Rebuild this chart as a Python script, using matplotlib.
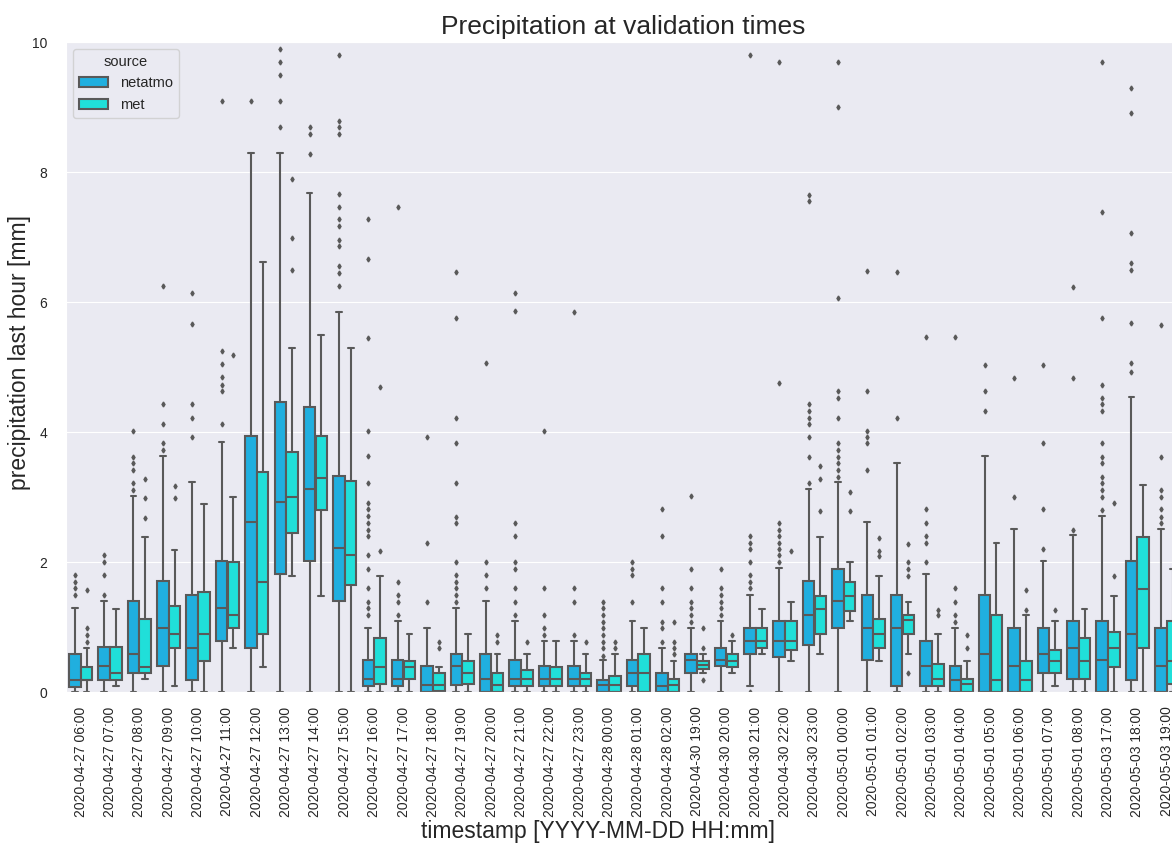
import numpy as np
import matplotlib.pyplot as plt
import seaborn as sns
from matplotlib.patches import Patch

sns.set_style("darkgrid")
plt.rcParams['font.family'] = ['Liberation Sans', 'DejaVu Sans']

# Validation timestamps (one box pair per hour)
timestamps = [
    "2020-04-27 06:00", "2020-04-27 07:00", "2020-04-27 08:00", "2020-04-27 09:00",
    "2020-04-27 10:00", "2020-04-27 11:00", "2020-04-27 12:00", "2020-04-27 13:00",
    "2020-04-27 14:00", "2020-04-27 15:00", "2020-04-27 16:00", "2020-04-27 17:00",
    "2020-04-27 18:00", "2020-04-27 19:00", "2020-04-27 20:00", "2020-04-27 21:00",
    "2020-04-27 22:00", "2020-04-27 23:00", "2020-04-28 00:00", "2020-04-28 01:00",
    "2020-04-28 02:00", "2020-04-30 19:00", "2020-04-30 20:00", "2020-04-30 21:00",
    "2020-04-30 22:00", "2020-04-30 23:00", "2020-05-01 00:00", "2020-05-01 01:00",
    "2020-05-01 02:00", "2020-05-01 03:00", "2020-05-01 04:00", "2020-05-01 05:00",
    "2020-05-01 06:00", "2020-05-01 07:00", "2020-05-01 08:00", "2020-05-03 17:00",
    "2020-05-03 18:00", "2020-05-03 19:00",
]

# netatmo box statistics [mm]
netatmo_q1 = [0.07, 0.18, 0.29, 0.40, 0.18, 0.78, 0.68, 1.82, 2.02, 1.40,
              0.09, 0.09, 0.00, 0.11, 0.00, 0.09, 0.09, 0.09, 0.00, 0.09,
              0.00, 0.30, 0.40, 0.58, 0.54, 0.72, 0.99, 0.49, 0.09, 0.09,
              0.00, 0.00, 0.00, 0.30, 0.20, 0.00, 0.18, 0.00]
netatmo_med = [0.18, 0.40, 0.58, 0.99, 0.68, 1.30, 2.61, 2.92, 3.12, 2.22,
               0.20, 0.20, 0.11, 0.40, 0.20, 0.20, 0.20, 0.20, 0.11, 0.30,
               0.09, 0.49, 0.50, 0.79, 0.79, 1.19, 1.40, 0.99, 0.99, 0.40,
               0.18, 0.58, 0.40, 0.58, 0.68, 0.50, 0.89, 0.40]
netatmo_q3 = [0.58, 0.69, 1.40, 1.71, 1.49, 2.02, 3.94, 4.46, 4.39, 3.32,
              0.50, 0.50, 0.40, 0.58, 0.58, 0.50, 0.40, 0.40, 0.18, 0.50,
              0.30, 0.58, 0.68, 0.99, 1.10, 1.71, 1.90, 1.50, 1.50, 0.78,
              0.40, 1.50, 0.99, 0.99, 1.10, 1.10, 2.02, 0.99]
netatmo_lo = [0.0] * 23 + [0.09] + [0.0] * 14
netatmo_hi = [1.30, 1.40, 3.02, 3.63, 3.23, 3.84, 8.29, 8.29, 7.67, 5.85,
              0.99, 1.10, 0.99, 1.30, 1.40, 1.10, 0.78, 0.78, 0.49, 1.10,
              0.68, 0.99, 1.10, 1.50, 1.91, 3.12, 3.23, 2.61, 3.53, 1.81,
              0.99, 3.63, 2.51, 2.02, 2.41, 2.71, 4.54, 2.51]
netatmo_fliers = [
    [1.49, 1.60, 1.70, 1.80],
    [1.49, 1.80, 2.00, 2.11],
    [3.11, 3.21, 3.42, 3.52, 3.62, 4.02],
    [3.72, 3.83, 4.12, 4.43, 6.25],
    [3.93, 4.22, 4.43, 5.66, 6.14],
    [4.12, 4.63, 4.73, 4.84, 5.04, 5.25, 9.10],
    [9.10],
    [8.69, 9.10, 9.49, 9.70, 9.90],
    [8.28, 8.58, 8.69],
    [6.25, 6.45, 6.55, 6.86, 6.96, 7.17, 7.27, 7.46, 7.66, 8.58, 8.69, 8.79, 9.80],
    [1.18, 1.29, 1.39, 1.60, 1.90, 2.11, 2.40, 2.50, 2.60, 2.71, 2.81, 2.91,
     3.22, 3.63, 4.02, 5.45, 6.66, 7.28],
    [1.18, 1.39, 1.49, 1.70, 7.46],
    [1.39, 2.30, 3.93],
    [1.39, 1.49, 1.60, 1.70, 1.80, 2.00, 2.60, 2.70, 3.21, 3.83, 4.22, 5.75, 6.46],
    [1.60, 1.80, 2.00, 5.06],
    [1.18, 1.39, 1.60, 1.90, 2.00, 2.40, 2.60, 5.86, 6.14],
    [0.88, 0.98, 1.18, 1.60, 4.02],
    [0.88, 1.39, 1.60, 5.85],
    [0.56, 0.67, 0.77, 0.88, 0.98, 1.08, 1.18, 1.29, 1.39],
    [1.39, 1.80, 1.90, 2.00],
    [0.77, 0.98, 1.08, 1.39, 1.60, 2.40, 2.81],
    [1.08, 1.18, 1.29, 1.39, 1.60, 1.90, 3.02],
    [1.18, 1.29, 1.39, 1.49, 1.60, 1.90],
    [0.00, 1.60, 1.70, 1.80, 2.00, 2.20, 2.30, 2.40, 9.80],
    [2.00, 2.11, 2.20, 2.30, 2.40, 2.50, 2.60, 4.75, 9.70],
    [3.21, 3.62, 3.93, 4.12, 4.22, 4.32, 4.43, 7.55, 7.65],
    [3.31, 3.42, 3.52, 3.62, 3.72, 3.83, 4.22, 4.53, 4.63, 6.06, 9.00, 9.70],
    [3.42, 3.83, 3.93, 4.02, 4.63, 6.48],
    [4.22, 6.46],
    [2.00, 2.30, 2.40, 2.60, 2.81, 5.46],
    [1.08, 1.18, 1.39, 1.60, 5.46],
    [4.32, 4.63, 5.03],
    [3.00, 4.83],
    [2.20, 2.81, 3.83, 5.03],
    [2.50, 4.83, 6.23],
    [2.80, 3.00, 3.11, 3.21, 3.31, 3.52, 3.62, 3.83, 4.32, 4.43, 4.53, 4.73,
     5.75, 7.38, 9.70],
    [4.92, 5.06, 5.68, 6.49, 6.60, 7.06, 8.91, 9.29],
    [2.60, 2.70, 2.81, 3.00, 3.11, 3.62, 5.65],
]

# met box statistics [mm]
met_q1 = [0.18, 0.18, 0.29, 0.68, 0.48, 0.99, 0.89, 2.44, 2.80, 1.65,
          0.12, 0.20, 0.02, 0.12, 0.00, 0.09, 0.09, 0.09, 0.00, 0.00,
          0.00, 0.36, 0.38, 0.68, 0.65, 0.89, 1.25, 0.68, 0.89, 0.09,
          0.00, 0.00, 0.00, 0.30, 0.20, 0.38, 0.68, 0.13]
met_med = [0.18, 0.29, 0.38, 0.89, 0.89, 1.19, 1.70, 3.00, 3.29, 2.11,
           0.38, 0.38, 0.11, 0.30, 0.11, 0.20, 0.20, 0.20, 0.11, 0.30,
           0.11, 0.42, 0.48, 0.79, 0.79, 1.28, 1.48, 0.89, 1.11, 0.20,
           0.12, 0.18, 0.18, 0.48, 0.48, 0.68, 1.58, 0.48]
met_q3 = [0.38, 0.69, 1.13, 1.33, 1.54, 2.00, 3.39, 3.70, 3.94, 3.25,
          0.83, 0.48, 0.30, 0.48, 0.30, 0.34, 0.38, 0.30, 0.24, 0.58,
          0.20, 0.48, 0.58, 0.99, 1.10, 1.48, 1.69, 1.13, 1.19, 0.43,
          0.20, 1.19, 0.48, 0.65, 0.83, 0.92, 2.39, 1.10]
met_lo = [0.00, 0.09, 0.20, 0.09, 0.00, 0.68, 0.38, 1.79, 1.48, 0.00,
          0.00, 0.00, 0.00, 0.00, 0.00, 0.00, 0.00, 0.00, 0.00, 0.00,
          0.00, 0.30, 0.29, 0.58, 0.48, 0.58, 1.10, 0.48, 0.58, 0.00,
          0.00, 0.00, 0.00, 0.09, 0.00, 0.00, 0.00, 0.00]
met_hi = [0.68, 1.27, 2.39, 2.18, 2.90, 3.00, 6.61, 5.30, 5.50, 5.30,
          1.79, 0.89, 0.38, 0.89, 0.58, 0.58, 0.78, 0.58, 0.58, 0.99,
          0.48, 0.58, 0.78, 1.28, 1.38, 2.39, 2.00, 1.79, 1.38, 0.89,
          0.48, 2.29, 1.19, 1.10, 1.27, 1.48, 3.18, 1.89]
met_fliers = [
    [0.77, 0.88, 0.98, 1.57], [], [2.68, 2.99, 3.28], [2.99, 3.17], [],
    [5.18], [], [6.50, 6.99, 7.89], [], [],
    [2.17, 4.69], [], [0.67, 0.77], [], [0.77, 0.88],
    [0.77], [], [0.77], [0.67, 0.77], [],
    [0.58, 0.67, 0.77, 1.08], [0.18, 0.67, 0.98], [0.88], [], [2.17],
    [2.78, 3.28, 3.48], [2.78, 3.07], [2.09, 2.17, 2.37],
    [0.29, 1.79, 1.90, 2.00, 2.28], [1.18, 1.26],
    [0.67, 0.88], [], [1.26, 1.57], [1.26], [],
    [1.79, 2.91], [], [],
]

sources = ["netatmo", "met"]
colors = ["#20afdf", "#20dfd9"]
gray = "#595959"


def box_stats(q1, med, q3, lo, hi, fliers):
    return [dict(q1=a, med=b, q3=c, whislo=d, whishi=e, fliers=f)
            for a, b, c, d, e, f in zip(q1, med, q3, lo, hi, fliers)]


stats = [
    box_stats(netatmo_q1, netatmo_med, netatmo_q3, netatmo_lo, netatmo_hi, netatmo_fliers),
    box_stats(met_q1, met_med, met_q3, met_lo, met_hi, met_fliers),
]

fig = plt.figure(figsize=(11.72, 8.46), dpi=100)
ax = fig.add_axes([0.0563, 0.182, 0.9517, 0.7683])

x = np.arange(len(timestamps))
for offset, st, color in zip([-0.2, 0.2], stats, colors):
    ax.bxp(st, positions=x + offset, widths=0.392, patch_artist=True,
           manage_ticks=False,
           boxprops=dict(facecolor=color, edgecolor=gray, linewidth=1.5),
           whiskerprops=dict(color=gray, linewidth=1.5),
           capprops=dict(color=gray, linewidth=1.5),
           medianprops=dict(color=gray, linewidth=1.5),
           flierprops=dict(marker="d", markersize=2.5, markerfacecolor=gray,
                           markeredgecolor=gray, linestyle="none"))

ax.set_xlim(-0.5, len(timestamps) - 0.5)
ax.set_ylim(0, 10)
ax.set_yticks([0, 2, 4, 6, 8, 10])
ax.set_xticks(x)
ax.set_xticklabels(timestamps, rotation=90)
ax.xaxis.grid(False)
ax.tick_params(axis="y", labelsize=10, pad=10)
ax.tick_params(axis="x", labelsize=10, pad=7)

ax.set_title("Precipitation at validation times", fontsize=19)
ax.set_xlabel("timestamp [YYYY-MM-DD HH:mm]", fontsize=16.5)
ax.set_ylabel("precipitation last hour [mm]", fontsize=16.5)
ax.xaxis.set_label_coords(0.477, -0.197)
ax.yaxis.set_label_coords(-0.031, 0.523)

handles = [Patch(facecolor=c, edgecolor=gray, linewidth=1.5) for c in colors]
ax.legend(handles, sources, title="source", loc="upper left",
          fontsize=10.5, title_fontsize=10.5)

fig.savefig("out.png", dpi=100)
